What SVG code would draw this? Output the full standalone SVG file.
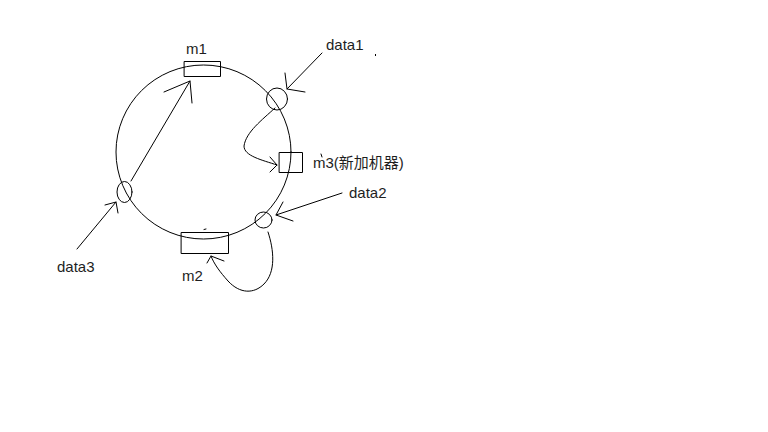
<svg xmlns="http://www.w3.org/2000/svg" width="768" height="432" viewBox="0 0 768 432">
  <style>
    .ln { fill: none; stroke: #000; stroke-width: 1; stroke-linecap: round; stroke-linejoin: round; }
    .lbl { font-family: "Liberation Sans", "Noto Sans CJK SC", sans-serif; font-size: 15px; fill: #1e1e1e; }
  </style>
  <rect width="768" height="432" fill="#fff"/>

  <!-- hash ring -->
  <g id="ring">
    <ellipse class="ln" cx="203.5" cy="152" rx="87.5" ry="87"/>
  </g>

  <g id="m1">
    <rect class="ln" x="184.5" y="61.5" width="36" height="15"/>
    <text class="lbl" x="186" y="54">m1</text>
  </g>

  <g id="m2">
    <rect class="ln" x="181.5" y="232.5" width="47" height="21"/>
    <line class="ln" x1="204" y1="229.5" x2="206" y2="229"/>
    <text class="lbl" x="182" y="281">m2</text>
  </g>

  <g id="m3">
    <rect class="ln" x="279.5" y="152.5" width="23" height="20"/>
    <line class="ln" x1="321" y1="154" x2="322" y2="157"/>
    <text class="lbl" x="313" y="168">m3(新加机器)</text>
  </g>

  <g id="data1">
    <ellipse class="ln" cx="277" cy="99" rx="10.5" ry="11"/>
    <text class="lbl" x="326" y="50">data1</text>
    <rect x="375" y="54" width="1" height="2" fill="#000"/>
  </g>

  <g id="data2">
    <ellipse class="ln" cx="263.5" cy="220" rx="8.5" ry="8"/>
    <text class="lbl" x="349" y="198">data2</text>
  </g>

  <g id="data3">
    <ellipse class="ln" cx="124.5" cy="192" rx="7.5" ry="10.5"/>
    <text class="lbl" x="57" y="272">data3</text>
  </g>

  <!-- connectors -->
  <g id="connectors">
    <!-- data1 label to its key -->
    <path class="ln" d="M322 53 L287 89 M285 73 L287 89 L305 92"/>
    <!-- data1 moves to m3 -->
    <path class="ln" d="M275 108 C262 120 246 132 244 146 C244 156 262 160 277 165 M270 157 L277 165 L270 172"/>
    <!-- data2 label to its key -->
    <path class="ln" d="M342 193 L276 215 M283 202 L276 215 L293 221"/>
    <!-- data2 goes to m2 -->
    <path class="ln" d="M268 232 C274 250 276 272 264 284 C254 294 240 294 228 281 C220 272 214 264 211 256 M207 263 L211 256 L224 261"/>
    <!-- data3 label to its key -->
    <path class="ln" d="M77 249 L116 202 M105 205 L116 202 L118 213"/>
    <!-- data3 goes to m1 -->
    <path class="ln" d="M131 181 L190 81 M164 92 L190 81 L192 103"/>
  </g>
</svg>
